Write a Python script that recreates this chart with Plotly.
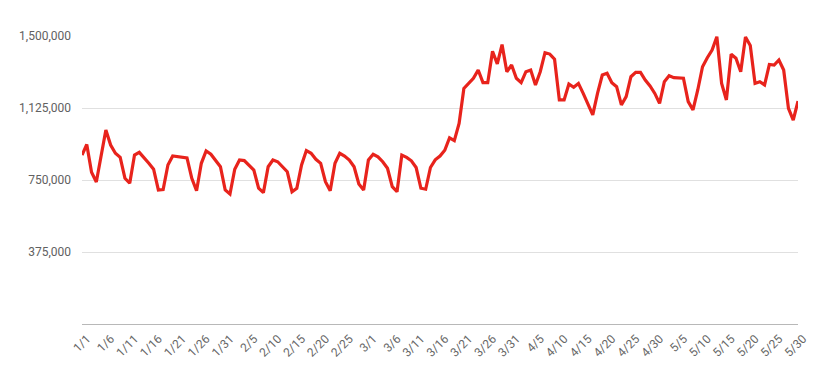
import plotly.graph_objects as go

values = [
    880000, 935000, 790000, 740000, 875000, 1010000, 932000, 889000, 868000, 759000,
    733000, 880000, 894000, 868000, 837000, 806000, 698000, 700000, 828000, 875000,
    871000, 868000, 865000, 759000, 694000, 837000, 901000, 884000, 854000, 819000,
    698000, 677000, 806000, 854000, 851000, 828000, 802000, 707000, 684000, 819000,
    854000, 845000, 819000, 793000, 689000, 707000, 828000, 903000, 889000, 858000,
    837000, 741000, 694000, 837000, 889000, 875000, 854000, 819000, 729000, 698000,
    854000, 884000, 871000, 845000, 811000, 715000, 689000, 880000, 868000, 850000,
    815000, 707000, 702000, 815000, 855000, 875000, 905000, 970000, 955000, 1045000,
    1227000, 1253000, 1280000, 1323000, 1257000, 1257000, 1420000, 1355000, 1455000, 1314000,
    1349000, 1280000, 1257000, 1314000, 1323000, 1245000, 1314000, 1413000, 1406000, 1379000,
    1167000, 1167000, 1250000, 1233000, 1253000, 1201000, 1141000, 1089000, 1201000, 1297000,
    1306000, 1257000, 1236000, 1141000, 1184000, 1288000, 1311000, 1311000, 1271000, 1240000,
    1201000, 1149000, 1262000, 1293000, 1283000, 1283000, 1280000, 1158000, 1115000, 1219000,
    1340000, 1387000, 1427000, 1496000, 1253000, 1167000, 1405000, 1384000, 1314000, 1495000,
    1450000, 1253000, 1262000, 1245000, 1352000, 1349000, 1375000, 1323000, 1123000, 1062000,
    1161000,
]

tick_labels = [
    "1/1", "1/6", "1/11", "1/16", "1/21", "1/26", "1/31", "2/5", "2/10", "2/15",
    "2/20", "2/25", "3/1", "3/6", "3/11", "3/16", "3/21", "3/26", "3/31", "4/5",
    "4/10", "4/15", "4/20", "4/25", "4/30", "5/5", "5/10", "5/15", "5/20", "5/25", "5/30",
]
tick_every = 5

y_ticks = [375000, 750000, 1125000, 1500000]
y_tick_text = ["375,000", "750,000", "1,125,000", "1,500,000"]

days = list(range(len(values)))
tick_positions = [i * tick_every for i in range(len(tick_labels))]

fig = go.Figure()
fig.add_trace(go.Scatter(
    x=days, y=values, mode="lines",
    line=dict(color="#e8231c", width=3.2),
    hoverinfo="skip",
))

# page body has an 8px default margin, so the figure is offset by (8, 8)
fig.update_layout(
    width=832, height=367,
    margin=dict(l=74, r=42, t=28, b=51),
    paper_bgcolor="white", plot_bgcolor="white",
    showlegend=False,
    font=dict(family="Roboto, Arial, sans-serif", size=12, color="#616161"),
)
fig.update_xaxes(
    range=[0, len(values) - 1], automargin=False,
    tickmode="array", tickvals=tick_positions, ticktext=tick_labels,
    tickangle=-45, showgrid=False, zeroline=False,
    showline=True, linecolor="#b8b8b8", linewidth=1,
    ticks="", ticklabelshift=5, ticklabelstandoff=2,
    tickfont=dict(size=12, color="#666666"),
)
fig.update_yaxes(
    range=[0, 1500000], automargin=False,
    tickmode="array", tickvals=y_ticks, ticktext=y_tick_text,
    showgrid=True, gridcolor="#e0e0e0", gridwidth=1,
    zeroline=False, showline=False, ticks="",
    ticklabelstandoff=10,
    tickfont=dict(size=12, color="#616161"),
)

fig.write_html("out.html")
